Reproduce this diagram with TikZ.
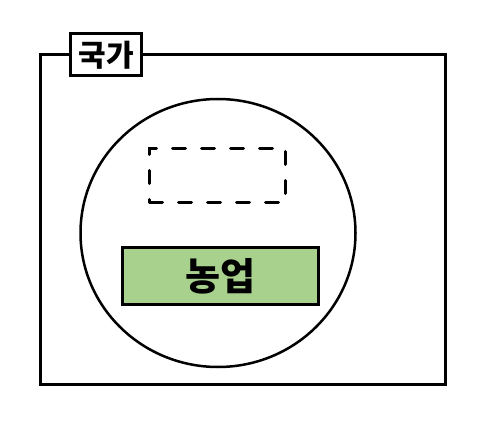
\documentclass[tikz,border=0pt]{standalone}
\usepackage{fontspec}
\setmainfont{Noto Sans CJK KR}
\usetikzlibrary{shapes.geometric}
\definecolor{farmgreen}{HTML}{A9D18E}

\begin{document}
\begin{tikzpicture}[x=1pt,y=-1pt,line width=3pt,
  box/.style={draw,rectangle,inner sep=0pt}]
\useasboundingbox (0,0) rectangle (493,425);

% define the frames
  \node[box, minimum width=405pt, minimum height=329pt] (nation) at (243,219.5) {};
  \node[box, fill=white, minimum width=71pt, minimum height=42pt] (nationlabel) at (106,55)
{\fontsize{30}{32}\selectfont\bfseries 국가};

% define the inner parts
  \node[draw, ellipse, line width=2.5pt, minimum width=275pt, minimum height=268pt] (sector) at (218,233) {};
  \node[box, dash pattern=on 13pt off 16pt, line cap=round, minimum width=136pt, minimum height=54pt] (empty) at (217.5,175.5) {};
  \node[box, fill=farmgreen, minimum width=196pt, minimum height=57pt] (farming) at (220,276)
{\fontsize{38}{40}\selectfont\bfseries 농업};

\end{tikzpicture}
\end{document}
